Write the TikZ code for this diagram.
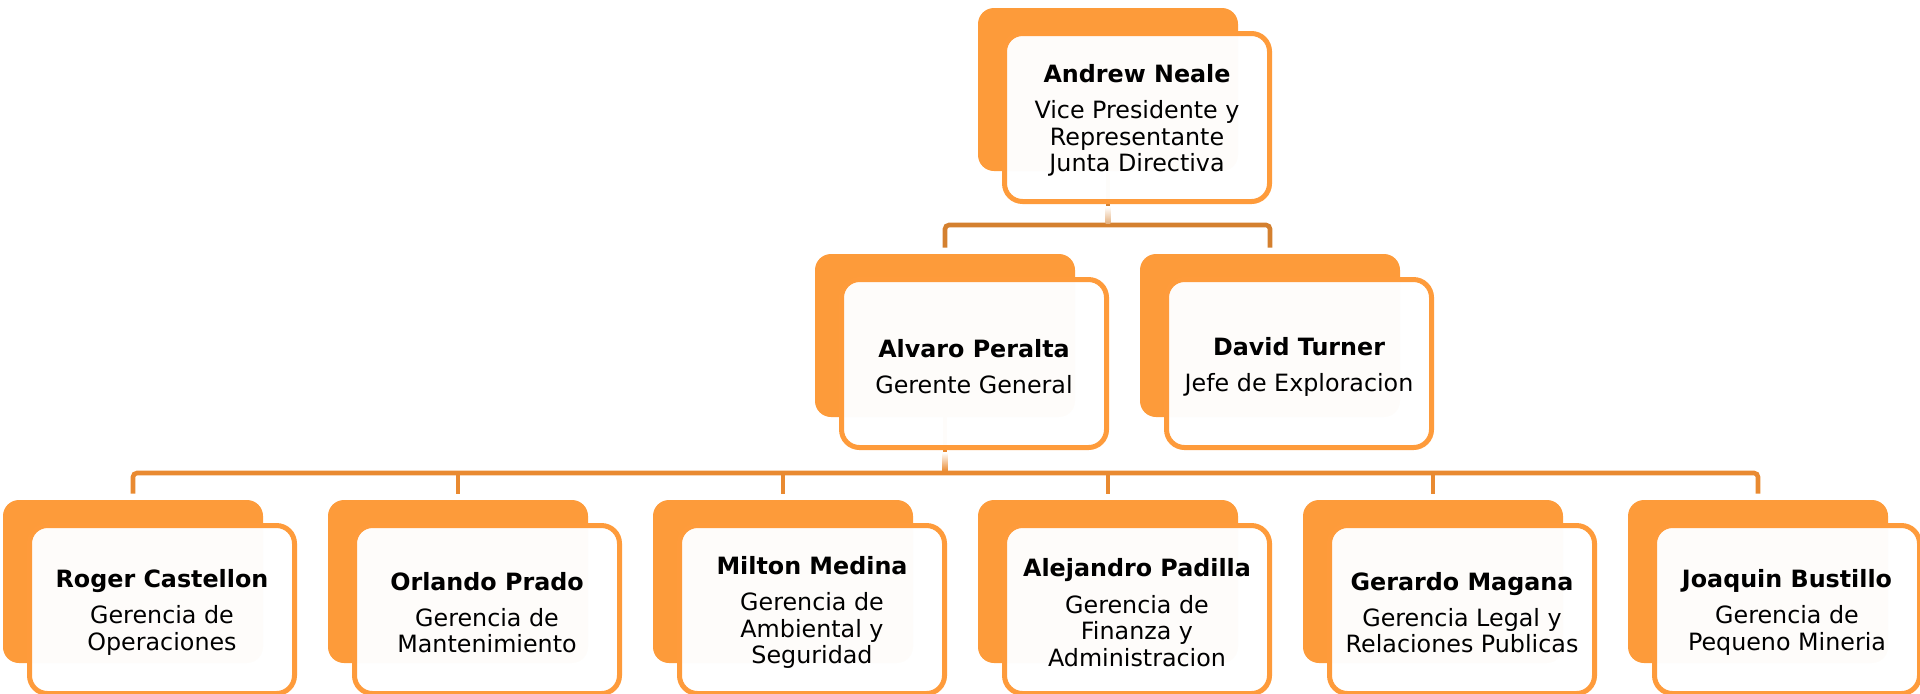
\documentclass[tikz,border=0pt]{standalone}
\usepackage{fontspec}
\setmainfont{DejaVu Sans}
\usetikzlibrary{calc}
\pgfdeclarelayer{background}
\pgfsetlayers{background,main}
\definecolor{backor}{HTML}{FD9B3A}
\definecolor{frontor}{HTML}{FE9B3B}
\definecolor{barlow}{HTML}{E98A31}
\definecolor{bartop}{HTML}{D4802F}
\tikzset{
  backbox/.style={rectangle, rounded corners=8pt, fill=backor, draw=none,
    minimum width=130pt, minimum height=81.5pt, inner sep=0pt},
  frontbox/.style={rectangle, rounded corners=9pt, draw=frontor, line width=2.5pt,
    fill=white, fill opacity=0.975, text opacity=1,
    minimum width=132.5pt, minimum height=84pt, inner sep=0pt, align=center,
    font=\fontsize{11.9pt}{13.3pt}\selectfont, text=black},
  toplink/.style={draw=bartop, line width=2.3pt, rounded corners=2pt},
  lowlink/.style={draw=barlow, line width=2.3pt, rounded corners=2pt}
}
\newcommand{\orgperson}[5]{%
  \node[backbox] (#1b) at (#2+130, #3+81.5) {};
  \node[frontbox] (#1) at (#2+159, #3+109.5) {\rule{0pt}{12.2pt}#4\\[4.75pt]#5};
}
\begin{document}
\begin{tikzpicture}[x=0.5pt, y=-0.5pt]
\useasboundingbox (0,0) rectangle (1920,693);
% persons
\orgperson{and}{978}{8}{\textbf{Andrew Neale}}{Vice Presidente y\\Representante\\Junta Directiva}
\orgperson{alv}{815}{254}{\textbf{Alvaro Peralta}}{Gerente General}
\orgperson{dav}{1140}{254}{\textbf{David Turner}}{Jefe de Exploracion}
\orgperson{rog}{3}{500}{\textbf{Roger Castellon}}{Gerencia de\\Operaciones}
\orgperson{orl}{328}{500}{\textbf{Orlando Prado}}{Gerencia de\\Mantenimiento}
\orgperson{mil}{653}{500}{\textbf{Milton Medina}}{Gerencia de\\Ambiental y\\Seguridad}
\orgperson{ale}{978}{500}{\textbf{Alejandro Padilla}}{Gerencia de\\Finanza y\\Administracion}
\orgperson{ger}{1303}{500}{\textbf{Gerardo Magana}}{Gerencia Legal y\\Relaciones Publicas}
\orgperson{joa}{1628}{500}{\textbf{Joaquin Bustillo}}{Gerencia de\\Pequeno Mineria}
\coordinate (bar1) at (0,225);
\coordinate (bar2) at (0,473);
% connectors
\begin{pgfonlayer}{background}
\draw[toplink] (andb.center) -- (andb.center |- bar1);
\draw[toplink] ([yshift=3pt]alvb.north) -- (alvb.north |- bar1) -- (davb.north |- bar1) -- ([yshift=3pt]davb.north);
\draw[lowlink] (alvb.center) -- (alvb.center |- bar2);
\draw[lowlink] ([yshift=3pt]rogb.north) -- (rogb.north |- bar2) -- (joab.north |- bar2) -- ([yshift=3pt]joab.north);
\foreach \n in {orl,mil,ale,ger}
  \draw[lowlink] (\n b.north |- bar2) -- ([yshift=3pt]\n b.north);
\end{pgfonlayer}
% fading of the links under the boxes
\shade[top color=white, bottom color=bartop!60!white] ($(andb.center |- and.south)+(-2.4,2.5)$) rectangle ($(andb.center |- bar1)+(2.4,-2)$);
\shade[top color=white, bottom color=barlow] ($(alvb.center |- alv.south)+(-2.4,2.5)$) rectangle ($(alvb.center |- bar2)+(2.4,-2)$);
\end{tikzpicture}
\end{document}
